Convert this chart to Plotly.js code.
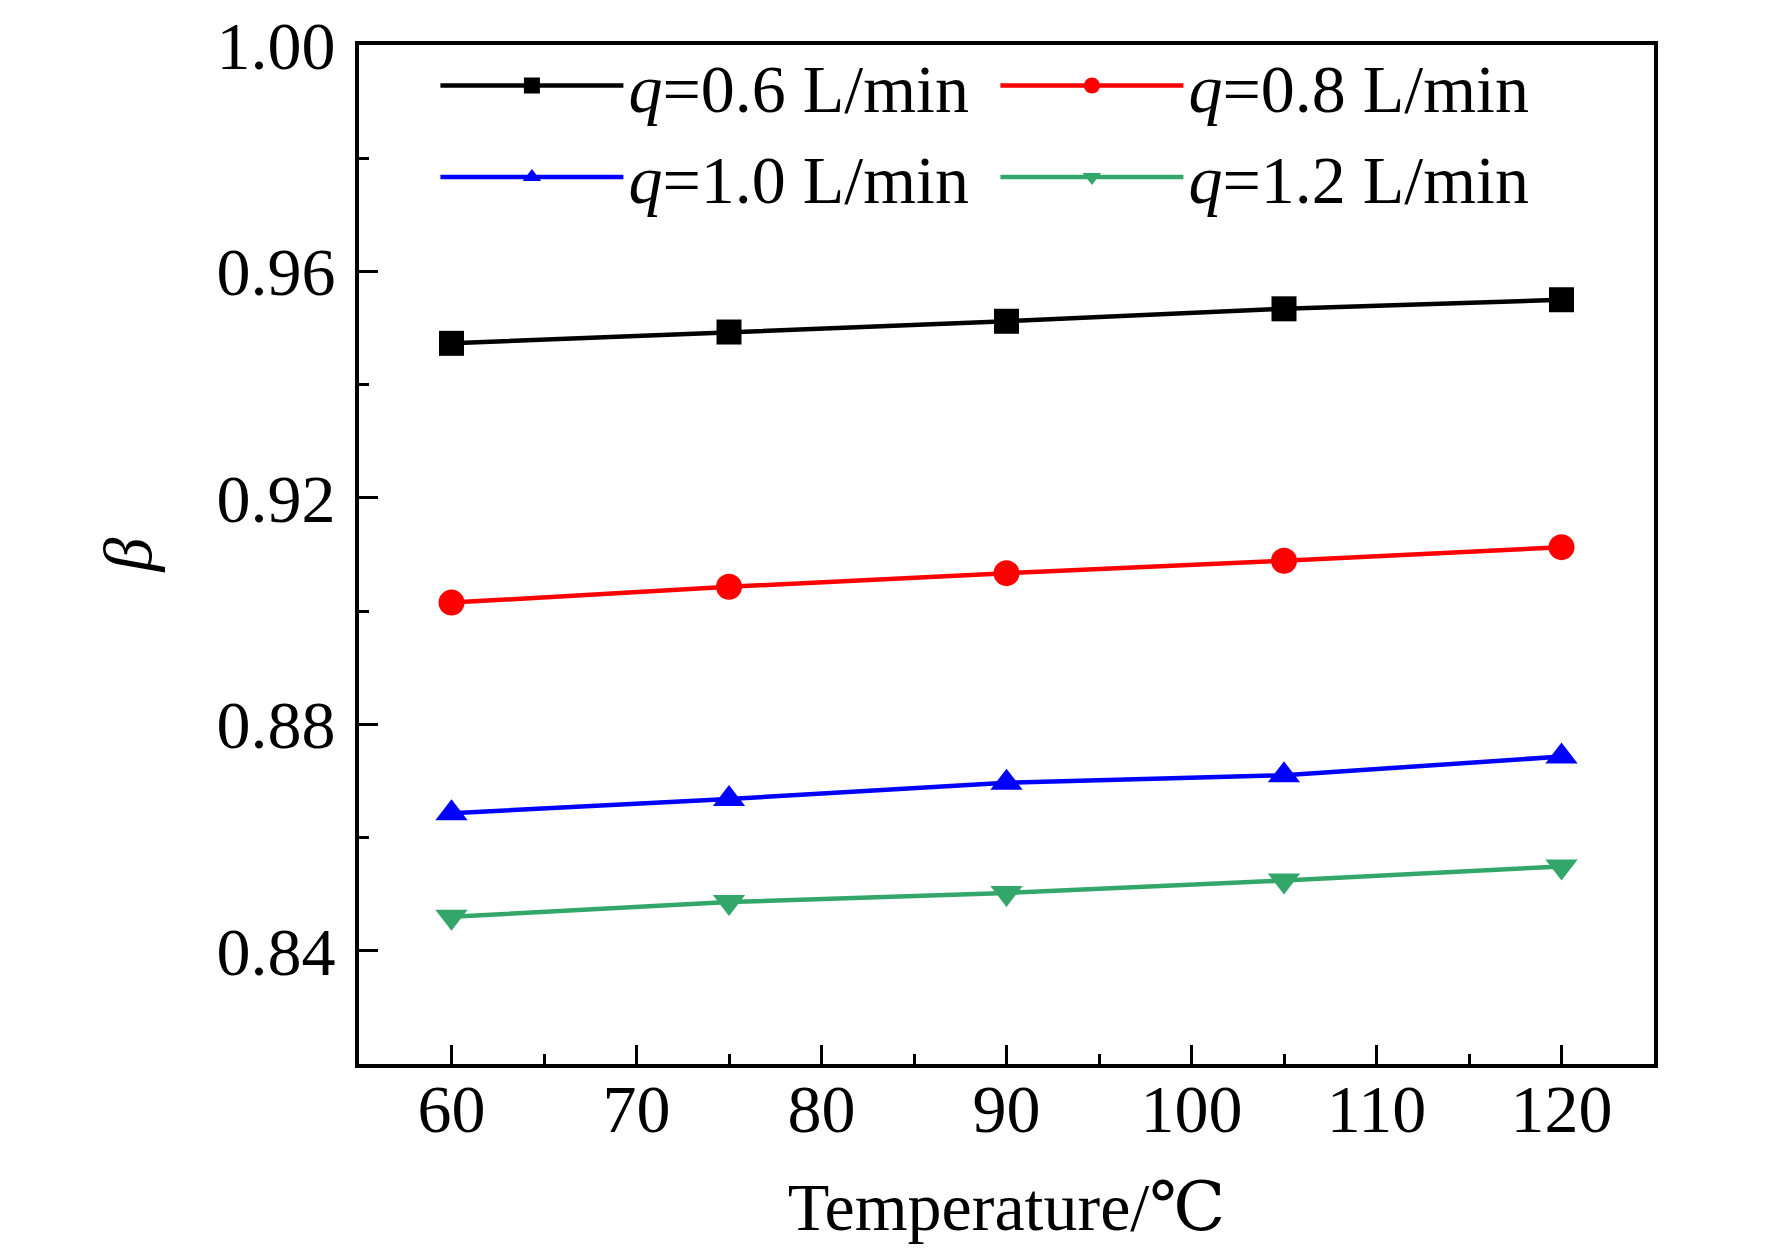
<!DOCTYPE html>
<html>
<head>
<meta charset="utf-8">
<script src="https://cdn.plot.ly/plotly-3.0.1.min.js"></script>
<style>
  body { margin: 0; background: #fff; }
  #grafico { width: 1772px; height: 1251px; }
</style>
</head>
<body>
<div id="grafico"></div>
<script>
// temperatura (eje x) y valores de beta por caudal
var temperaturas = [60, 75, 90, 105, 120];
var beta06 = [0.9473, 0.9493, 0.9512, 0.9534, 0.9550];
var beta08 = [0.9015, 0.9043, 0.9067, 0.9089, 0.9113];
var beta10 = [0.8643, 0.8668, 0.8697, 0.8710, 0.8743];
var beta12 = [0.8460, 0.8486, 0.8502, 0.8524, 0.8549];
var nombres = ["<i>q</i>=0.6 L/min", "<i>q</i>=0.8 L/min", "<i>q</i>=1.0 L/min", "<i>q</i>=1.2 L/min"];

var fuente = "Liberation Serif, DejaVu Serif, Times New Roman, serif";

function serie(y, nombre, color, simbolo, tam) {
  return {
    x: temperaturas,
    y: y,
    name: nombre,
    type: "scatter",
    mode: "lines+markers",
    line: { color: color, width: 4.5 },
    marker: { color: color, symbol: simbolo, size: tam }
  };
}

var data = [
  serie(beta06, nombres[0], "#000000", "square", 25),
  serie(beta08, nombres[1], "#ff0000", "circle", 26),
  serie(beta10, nombres[2], "#0000ff", "triangle-up", 28),
  serie(beta12, nombres[3], "#33a66a", "triangle-down", 28)
];

var layout = {
  width: 1772,
  height: 1251,
  margin: { l: 359, r: 118, t: 45, b: 187 },
  paper_bgcolor: "#fff",
  plot_bgcolor: "#fff",
  font: { family: fuente, size: 68, color: "#000" },
  showlegend: true,
  legend: {
    orientation: "h",
    x: 0.059,
    y: 1.01,
    xanchor: "left",
    yanchor: "top",
    entrywidth: 362,
    entrywidthmode: "pixels",
    itemwidth: 183,
    bgcolor: "rgba(0,0,0,0)",
    font: { family: fuente, size: 68, color: "#000" }
  },
  xaxis: {
    range: [55, 125],
    dtick: 10,
    tick0: 60,
    ticks: "inside",
    ticklen: 19,
    tickwidth: 3,
    tickcolor: "#000",
    ticklabelstandoff: -18,
    minor: { dtick: 5, ticks: "inside", ticklen: 10, tickwidth: 3, tickcolor: "#000" },
    showline: true,
    linewidth: 4,
    linecolor: "#000",
    mirror: true,
    showgrid: false,
    zeroline: false,
    title: { text: "Temperature/℃", font: { family: fuente, size: 68 }, standoff: 38 }
  },
  yaxis: {
    range: [0.82, 1.0],
    dtick: 0.04,
    tick0: 0.84,
    tickformat: ".2f",
    ticks: "inside",
    ticklen: 19,
    tickwidth: 3,
    tickcolor: "#000",
    ticklabelstandoff: 6,
    minor: { dtick: 0.02, ticks: "inside", ticklen: 10, tickwidth: 3, tickcolor: "#000" },
    showline: true,
    linewidth: 4,
    linecolor: "#000",
    mirror: true,
    showgrid: false,
    zeroline: false,
    title: { text: "<i>β</i>", font: { family: fuente, size: 68 }, standoff: 44 }
  }
};

Plotly.newPlot("grafico", data, layout, { staticPlot: true });
</script>
</body>
</html>
